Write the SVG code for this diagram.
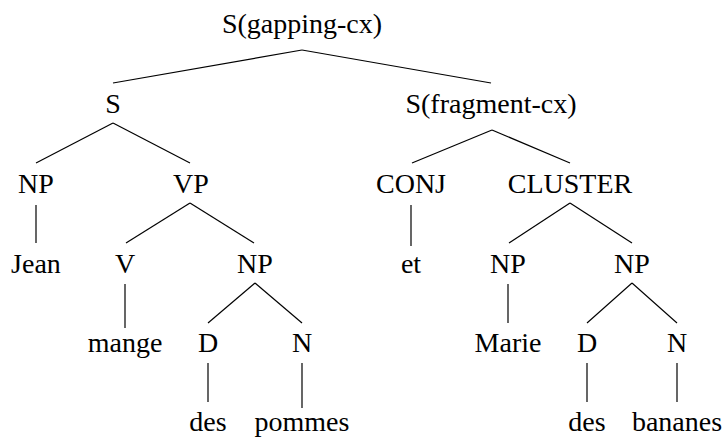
<svg xmlns="http://www.w3.org/2000/svg" width="725" height="438" viewBox="0 0 725 438">
<style>
text{font-family:"Liberation Serif","Times New Roman",serif;font-size:28px;fill:#000;text-anchor:middle}
#connectors line{stroke:#000;stroke-width:1.2;fill:none}
</style>
<rect width="725" height="438" fill="#fff"/>
<g id="connectors">
<line x1="302" y1="50" x2="113" y2="83"/>
<line x1="302" y1="50" x2="491" y2="83"/>
<line x1="113" y1="123" x2="36" y2="163"/>
<line x1="113" y1="123" x2="190" y2="163"/>
<line x1="492" y1="130" x2="412" y2="163"/>
<line x1="492" y1="130" x2="570" y2="163"/>
<line x1="36" y1="205" x2="36" y2="243"/>
<line x1="190" y1="203" x2="126" y2="243"/>
<line x1="190" y1="203" x2="254" y2="243"/>
<line x1="411" y1="205" x2="411" y2="246"/>
<line x1="570" y1="203" x2="509" y2="243"/>
<line x1="570" y1="203" x2="632" y2="243"/>
<line x1="125" y1="284" x2="125" y2="328"/>
<line x1="255" y1="283" x2="208" y2="323"/>
<line x1="255" y1="283" x2="302" y2="323"/>
<line x1="508" y1="284" x2="508" y2="323"/>
<line x1="632" y1="283" x2="587" y2="323"/>
<line x1="632" y1="283" x2="677" y2="323"/>
<line x1="208" y1="363" x2="208" y2="402"/>
<line x1="302" y1="363" x2="302" y2="408"/>
<line x1="587" y1="363" x2="587" y2="402"/>
<line x1="677" y1="363" x2="677" y2="402"/>
</g>
<g id="n-root"><text x="302" y="33">S(gapping-cx)</text></g>
<g id="n-s"><text x="113" y="113">S</text></g>
<g id="n-sfrag"><text x="491" y="113">S(fragment-cx)</text></g>
<g id="n-np1"><text x="36" y="193">NP</text></g>
<g id="n-vp"><text x="191" y="193">VP</text></g>
<g id="n-conj"><text x="411" y="193">CONJ</text></g>
<g id="n-cluster"><text x="570" y="193">CLUSTER</text></g>
<g id="n-jean"><text x="36" y="273">Jean</text></g>
<g id="n-v"><text x="125" y="273">V</text></g>
<g id="n-np2"><text x="255" y="273">NP</text></g>
<g id="n-et"><text x="411" y="273">et</text></g>
<g id="n-np3"><text x="508" y="273">NP</text></g>
<g id="n-np4"><text x="632" y="273">NP</text></g>
<g id="n-mange"><text x="125" y="352">mange</text></g>
<g id="n-d1"><text x="208" y="352">D</text></g>
<g id="n-n1"><text x="302" y="352">N</text></g>
<g id="n-marie"><text x="508" y="352">Marie</text></g>
<g id="n-d2"><text x="587" y="352">D</text></g>
<g id="n-n2"><text x="677" y="352">N</text></g>
<g id="n-des1"><text x="208" y="431">des</text></g>
<g id="n-pommes"><text x="302" y="431">pommes</text></g>
<g id="n-des2"><text x="587" y="431">des</text></g>
<g id="n-bananes"><text x="677" y="431">bananes</text></g>
</svg>
